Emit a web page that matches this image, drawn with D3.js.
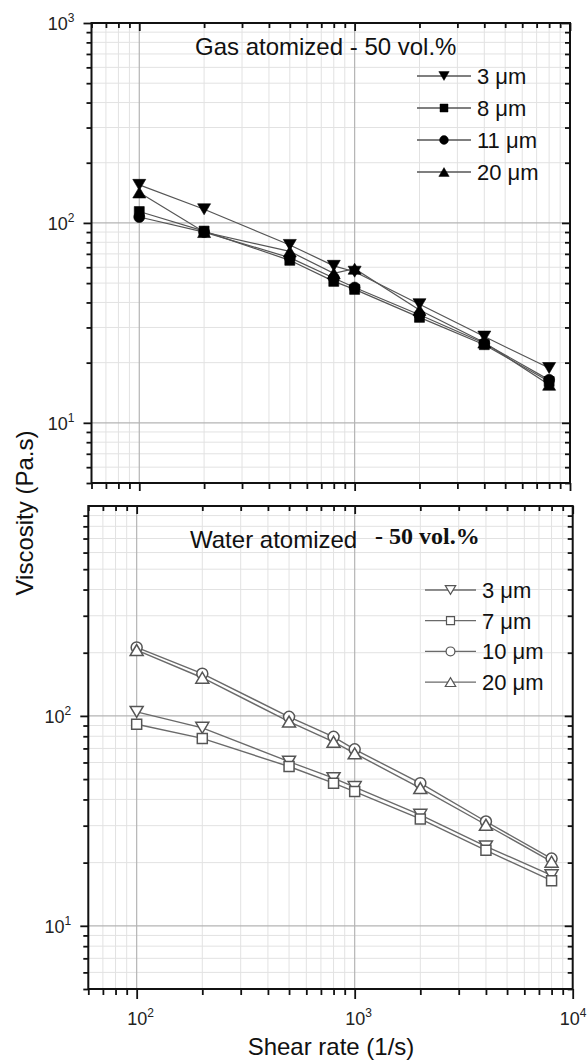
<!DOCTYPE html>
<html><head><meta charset="utf-8">
<script src="https://cdn.jsdelivr.net/npm/d3@7"></script>
<style>body{margin:0;background:#fff} svg{display:block}</style>
</head><body><svg id="c" width="587" height="1061"></svg>
<script>
// ---------- data ----------
const shearRates = [100, 200, 500, 800, 1000, 2000, 4000, 8000];

const gasLabels = ["3 μm", "8 μm", "11 μm", "20 μm"];
const gas3  = [155, 117, 77.6, 61, 57, 39.2, 27.0, 18.8];
const gas8  = [114, 91, 65, 51, 46.5, 33.7, 24.6, 16.1];
const gas11 = [107, 90, 67, 53, 47.5, 34.7, 25.0, 16.4];
const gas20 = [142, 90, 72, 56, 59, 36.7, 25.2, 15.5];

const waterLabels = ["3 μm", "7 μm", "10 μm", "20 μm"];
const water3  = [104.5, 87.7, 60.5, 50.5, 45.8, 33.8, 23.9, 17.4];
const water7  = [91.3, 78.1, 57.4, 47.8, 43.6, 32.3, 22.9, 16.4];
const water10 = [212, 159, 99, 79.5, 69.3, 47.8, 31.4, 20.9];
const water20 = [206, 152, 94, 75.3, 66.3, 45.3, 30.3, 20.2];

const xDomain = [60, 10000];
const yDomain = [5, 1000];
const xMajor = [100, 1000, 10000];
const xMinor = [60,70,80,90,200,300,400,500,600,700,800,900,2000,3000,4000,5000,6000,7000,8000,9000];
const yMinor = [5,6,7,8,9,20,30,40,50,60,70,80,90,200,300,400,500,600,700,800,900];
const yMajorTop = [10, 100, 1000];
const yMajorBottom = [10, 100];
const xTitle = "Shear rate (1/s)";
const yTitle = "Viscosity (Pa.s)";

// ---------- drawing ----------
const svg = d3.select("#c");
const FONT = "'Liberation Sans', Arial, sans-serif";

const shapes = {
  down: "M-6.5,-5.5L6.5,-5.5L0,5.5Z",
  up: "M-6.5,5.5L6.5,5.5L0,-5.5Z",
  square: "M-5,-5H5V5H-5Z",
  circle: d3.symbol(d3.symbolCircle, 95)()
};

function drawPanel(p) {
  const x = d3.scaleLog().domain(xDomain).range([p.left, p.right]);
  const y = d3.scaleLog().domain(yDomain).range([p.bottom, p.top]);
  const g = svg.append("g");

  // grid
  const grid = g.append("g");
  grid.selectAll(".vx").data(xMinor).join("line")
    .attr("x1", d => x(d)).attr("x2", d => x(d)).attr("y1", p.top).attr("y2", p.bottom)
    .attr("stroke", "#e2e2e2").attr("stroke-width", 1);
  grid.selectAll(".hy").data(yMinor).join("line")
    .attr("y1", d => y(d)).attr("y2", d => y(d)).attr("x1", p.left).attr("x2", p.right)
    .attr("stroke", "#e2e2e2").attr("stroke-width", 1);
  grid.selectAll(".vX").data([100, 1000]).join("line")
    .attr("x1", d => x(d)).attr("x2", d => x(d)).attr("y1", p.top).attr("y2", p.bottom)
    .attr("stroke", "#b4b4b4").attr("stroke-width", 1.2);
  grid.selectAll(".hY").data([10, 100]).join("line")
    .attr("y1", d => y(d)).attr("y2", d => y(d)).attr("x1", p.left).attr("x2", p.right)
    .attr("stroke", "#b4b4b4").attr("stroke-width", 1.2);

  // ticks
  const tk = (axis, tx, ty) => {
    const a = g.append("g").attr("transform", `translate(${tx},${ty})`).call(axis);
    a.select(".domain").remove();
    a.selectAll("line").attr("stroke", "#111").attr("stroke-width", 1.8);
    a.selectAll("text").remove();
  };
  tk(d3.axisLeft(y).tickValues(p.yMajor).tickSize(8), p.left, 0);
  tk(d3.axisLeft(y).tickValues(yMinor).tickSize(5), p.left, 0);
  tk(d3.axisRight(y).tickValues(p.yMajor).tickSize(-8), p.right, 0);
  tk(d3.axisRight(y).tickValues(yMinor).tickSize(-5), p.right, 0);
  tk(d3.axisTop(x).tickValues(xMajor).tickSize(-8), 0, p.top);
  tk(d3.axisTop(x).tickValues(xMinor).tickSize(-5), 0, p.top);
  tk(d3.axisBottom(x).tickValues(xMajor).tickSize(p.bottomMajor), 0, p.bottom);
  tk(d3.axisBottom(x).tickValues(xMinor).tickSize(6), 0, p.bottom);

  // frame
  g.append("rect").attr("x", p.left).attr("y", p.top)
    .attr("width", p.right - p.left).attr("height", p.bottom - p.top)
    .attr("fill", "none").attr("stroke", "#111").attr("stroke-width", 2);

  // y tick labels
  p.yMajor.forEach(v => {
    const t = g.append("text").attr("x", p.left - 17).attr("y", y(v) + 7)
      .attr("text-anchor", "end").attr("font-family", FONT).attr("font-size", 18).attr("fill", "#222");
    t.append("tspan").text("10");
    t.append("tspan").attr("dy", -8).attr("font-size", 12).text(Math.round(Math.log10(v)));
  });
  if (p.xLabels) {
    xMajor.forEach(v => {
      const px = Math.min(x(v) + 4, 573);
      const t = g.append("text").attr("x", px).attr("y", p.bottom + 36)
        .attr("text-anchor", "middle").attr("font-family", FONT).attr("font-size", 18).attr("fill", "#222");
      t.append("tspan").text("10");
      t.append("tspan").attr("dy", -8).attr("font-size", 12).text(Math.round(Math.log10(v)));
    });
  }

  // series lines
  const line = d3.line().x((d, i) => x(shearRates[i])).y(d => y(d));
  p.series.forEach(s => {
    g.append("path").attr("d", line(s.values)).attr("fill", "none")
      .attr("stroke", p.lineColor).attr("stroke-width", p.lineWidth);
  });
  // markers
  p.series.forEach(s => {
    g.selectAll(null).data(s.values).join("path")
      .attr("transform", (d, i) => `translate(${x(shearRates[i])},${y(d)})`)
      .attr("d", shapes[s.shape])
      .attr("fill", p.markerFill).attr("stroke", p.markerStroke).attr("stroke-width", p.markerStrokeWidth);
  });

  // legend
  p.series.forEach((s, i) => {
    const ly = p.legY + i * p.legStep;
    g.append("line").attr("x1", p.legX0).attr("x2", p.legX1).attr("y1", ly).attr("y2", ly)
      .attr("stroke", p.lineColor).attr("stroke-width", 1.3);
    g.append("path").attr("transform", `translate(${(p.legX0 + p.legX1) / 2},${ly}) scale(0.8)`)
      .attr("d", shapes[s.shape])
      .attr("fill", p.markerFill).attr("stroke", p.markerStroke).attr("stroke-width", p.markerStrokeWidth);
    g.append("text").attr("x", p.legX1 + 6).attr("y", ly + 8)
      .attr("font-family", FONT).attr("font-size", 22).attr("fill", "#111").text(s.label);
  });
  return {x, y, g};
}

drawPanel({
  left: 91.5, right: 570, top: 23, bottom: 483, yMajor: yMajorTop, bottomMajor: 8, xLabels: false,
  lineColor: "#555", lineWidth: 1.2, markerFill: "#000", markerStroke: "#000", markerStrokeWidth: 0.6,
  legX0: 417, legX1: 471, legY: 76, legStep: 32,
  series: [
    {label: gasLabels[0], values: gas3, shape: "down"},
    {label: gasLabels[1], values: gas8, shape: "square"},
    {label: gasLabels[2], values: gas11, shape: "circle"},
    {label: gasLabels[3], values: gas20, shape: "up"}
  ]
});

drawPanel({
  left: 88.3, right: 572.7, top: 506, bottom: 989, yMajor: yMajorBottom, bottomMajor: 10, xLabels: true,
  lineColor: "#6a6a6a", lineWidth: 1.4, markerFill: "#fff", markerStroke: "#555", markerStrokeWidth: 1.5,
  legX0: 425, legX1: 476, legY: 590, legStep: 30.7,
  series: [
    {label: waterLabels[0], values: water3, shape: "down"},
    {label: waterLabels[1], values: water7, shape: "square"},
    {label: waterLabels[2], values: water10, shape: "circle"},
    {label: waterLabels[3], values: water20, shape: "up"}
  ]
});

// panel titles
svg.append("text").attr("x", 195).attr("y", 55).attr("font-family", FONT).attr("font-size", 24)
  .attr("fill", "#111").text("Gas atomized - 50 vol.%");
const wt = svg.append("text").attr("x", 190).attr("y", 548).attr("font-family", FONT).attr("font-size", 24).attr("fill", "#111");
wt.append("tspan").text("Water atomized");
wt.append("tspan").attr("x", 375).attr("dy", -4)
  .attr("font-family", "'Liberation Serif', 'Times New Roman', serif").attr("font-weight", "bold").text("- 50 vol.%");

// axis titles
svg.append("text").attr("x", 331).attr("y", 1055).attr("text-anchor", "middle")
  .attr("font-family", FONT).attr("font-size", 24).attr("fill", "#111").text(xTitle);
svg.append("text").attr("transform", "translate(33,513) rotate(-90)").attr("text-anchor", "middle")
  .attr("font-family", FONT).attr("font-size", 24).attr("fill", "#111").text(yTitle);
</script></body></html>
